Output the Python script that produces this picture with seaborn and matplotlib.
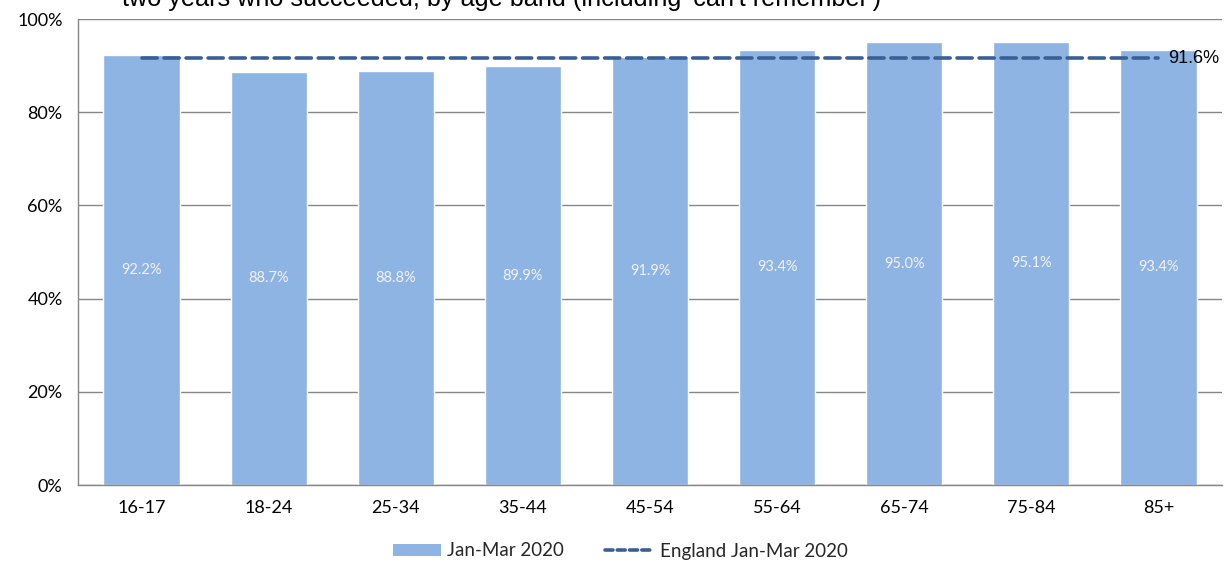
import matplotlib
matplotlib.use("Agg")
import matplotlib.pyplot as plt
import seaborn as sns
import pandas as pd
from matplotlib.patches import Patch
from matplotlib.lines import Line2D

categories = ["16-17", "18-24", "25-34", "35-44", "45-54", "55-64", "65-74", "75-84", "85+"]
values = [92.2, 88.7, 88.8, 89.9, 91.9, 93.4, 95.0, 95.1, 93.4]
england = 91.6
ytick_vals = [0, 20, 40, 60, 80, 100]
ytick_labels = ["0%", "20%", "40%", "60%", "80%", "100%"]
series_label = "Jan-Mar 2020"
england_label = "England Jan-Mar 2020"
title_line = "two years who succeeded, by age band (including 'can't remember')"

sns.set_style("white")
plt.rcParams["font.family"] = ["Lato", "DejaVu Sans"]

bar_color = "#8EB4E3"
line_color = "#3A5F95"
axis_gray = "#868686"

df = pd.DataFrame({"age": categories, "pct": values})

fig = plt.figure(figsize=(12.26, 5.62), dpi=100)
ax = fig.add_axes([78 / 1226, 1 - 485 / 562, (1222 - 78) / 1226, (485 - 19) / 562])

sns.barplot(data=df, x="age", y="pct", color=bar_color, saturation=1, width=0.6, ax=ax, zorder=2)

ax.set_xlim(-0.5, len(categories) - 0.5)
ax.set_ylim(0, 100)

ax.set_yticks(ytick_vals)
ax.set_yticklabels(ytick_labels, fontsize=13)
ax.yaxis.grid(True, color=axis_gray, linewidth=1)
ax.set_axisbelow(True)

ax.set_xticks(range(len(categories)))
ax.set_xticklabels(categories, fontsize=13)
ax.tick_params(axis="x", which="major", length=0, pad=11)
ax.set_xticks([i - 0.5 for i in range(len(categories) + 1)], minor=True)
ax.tick_params(axis="x", which="minor", length=7, color=axis_gray, width=1, direction="out")
ax.tick_params(axis="y", length=7, color=axis_gray, width=1, direction="out", pad=4,
               labelcolor="black")
ax.tick_params(axis="x", labelcolor="black")

ax.set_xlabel("")
ax.set_ylabel("")

for s in ["top", "right"]:
    ax.spines[s].set_visible(False)
for s in ["left", "bottom"]:
    ax.spines[s].set_color(axis_gray)
    ax.spines[s].set_linewidth(1)

for i, v in enumerate(values):
    ax.text(i, v / 2, f"{v:.1f}%", ha="center", va="center", color="#F2F2F2",
            fontsize=10.5, zorder=4)

ax.hlines(england, 0, len(categories) - 1, colors=line_color, linewidth=2.6,
          linestyles=(0, (4.2, 1.9)), zorder=3)
for c in ax.collections:
    try:
        c.set_capstyle("round")
    except Exception:
        pass
ax.text(len(categories) - 1 + 0.08, england, f"{england:.1f}%", ha="left", va="center",
        fontsize=13, family=["Liberation Sans"], color="black", zorder=4)

# Title (partially clipped at the top, as in the reference)
fig.text(122 / 1226, 1 - 6 / 562, title_line, ha="left", va="baseline",
         fontsize=18.2, family=["Liberation Sans"], color="black")

handles = [Patch(facecolor=bar_color, edgecolor="none", label=series_label),
           Line2D([0], [0], color=line_color, linewidth=2.6, linestyle=(0, (2.2, 1.2)),
                  dash_capstyle="round", label=england_label)]
fig.legend(handles=handles, loc="center", bbox_to_anchor=(620 / 1226, 1 - 551 / 562),
           ncol=2, frameon=False, fontsize=13.5, handlelength=2.6, handleheight=0.6,
           columnspacing=2.2, handletextpad=0.3, borderaxespad=0)

fig.savefig("out.png", dpi=100)
